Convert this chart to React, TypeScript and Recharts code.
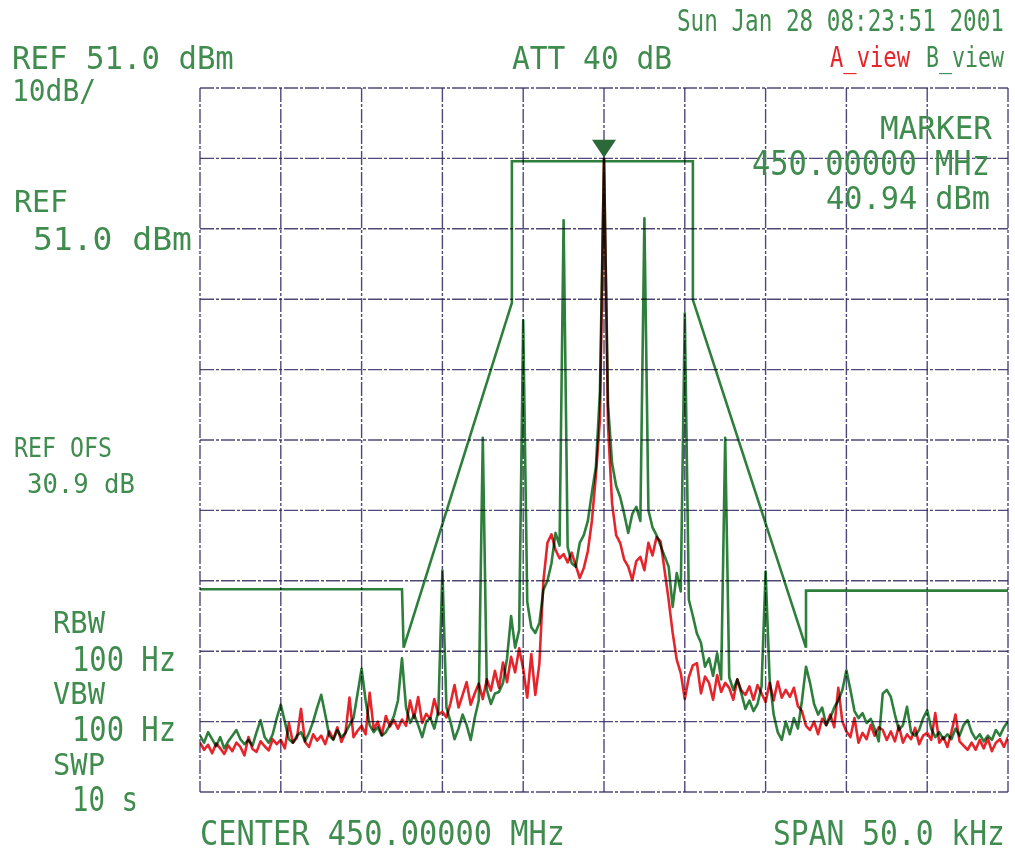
import React from 'react';
import { LineChart, Line, XAxis, YAxis, CartesianGrid, ReferenceDot } from 'recharts';

// Sweep definition: 201 points, -25 kHz .. +25 kHz around 450 MHz
const START_KHZ = -25;
const STEP_KHZ = 0.25;

// A_view (red) trace, dBm
const aView = [
  -42.0, -43.0, -42.3, -43.5, -42.1, -42.8, -43.6, -42.4, -43.2, -42.0,
  -42.6, -43.8, -41.2, -42.9, -43.3, -41.8, -42.5, -43.1, -41.5, -42.2,
  -41.6, -42.8, -39.2, -42.0, -41.3, -37.2, -41.9, -42.6, -40.8, -41.7,
  -41.0, -42.2, -40.4, -41.5, -39.8, -41.9, -40.6, -35.6, -41.2, -40.3,
  -39.6, -40.8, -34.9, -40.1, -39.0, -40.9, -38.2, -39.7, -38.8, -40.0,
  -38.7, -39.6, -36.0, -38.5, -35.5, -39.2, -37.9, -38.6, -35.8, -38.0,
  -37.6, -38.4, -36.4, -33.8, -37.0, -35.2, -33.4, -36.6, -35.0, -33.6,
  -35.8, -33.0, -34.6, -31.8, -34.2, -30.6, -33.4, -29.8, -32.0, -28.6,
  -31.5, -35.6, -29.4, -35.2, -30.8, -19.0, -13.6, -12.4, -14.6, -15.8,
  -15.2, -16.4, -15.0, -16.8, -18.6, -17.2, -14.8, -10.5, -4.0, 4.0,
  40.94,
  3.0, -8.0, -12.5, -13.6, -16.0, -17.0, -18.9, -16.2, -15.6, -17.5,
  -13.6, -15.4, -12.8, -13.4, -17.5, -21.7, -26.4, -30.2, -32.1, -35.8,
  -32.7, -31.0, -30.7, -35.0, -32.6, -33.5, -35.9, -32.4, -34.8, -33.5,
  -34.2, -35.9, -33.0, -34.6, -35.2, -34.0, -35.9, -33.8, -35.0, -36.2,
  -33.5, -36.0, -33.3, -35.6, -34.5, -35.5, -34.2, -36.8, -37.5, -39.6,
  -40.2, -39.0, -40.8, -38.6, -39.5, -38.0, -39.8, -34.2, -39.0, -40.4,
  -41.2, -38.5, -42.0, -40.6, -41.5, -39.5, -41.0, -39.8, -40.2, -41.6,
  -40.4, -41.8, -39.6, -42.0, -40.8, -41.5, -39.9, -42.2, -41.0, -40.6,
  -41.6, -37.8, -42.0, -41.2, -42.6, -40.5, -38.0, -41.8, -42.4, -43.0,
  -42.0, -43.0, -41.6, -42.8, -41.4, -43.2, -42.0, -41.5, -42.6, -41.2,
];

// B_view (green) trace, dBm
const bView = [
  -41.0, -42.0, -40.5, -41.5, -42.5, -41.2, -42.8, -41.8, -41.0, -40.2,
  -41.5, -42.2, -41.6, -42.4, -40.5, -38.8, -41.2, -42.0, -40.8, -38.5,
  -36.6, -39.0, -41.5, -42.0, -41.0, -40.5, -41.8, -40.6, -39.0, -37.0,
  -35.2, -38.0, -41.0, -41.6, -40.2, -41.2, -40.6, -39.5, -38.5, -35.0,
  -31.5, -36.0, -39.5, -40.5, -39.8, -41.0, -40.5, -39.5, -38.2, -36.0,
  -30.0, -37.0, -39.2, -38.0, -39.5, -41.2, -39.0, -38.5, -40.0, -37.5,
  -17.5, -37.0, -39.0, -41.5, -40.0, -38.0, -39.5, -41.6, -38.5, -36.0,
  1.3, -34.5, -36.5, -35.0, -34.8, -33.5, -30.0, -24.0, -28.5, -26.0,
  18.0, -22.0, -25.6, -26.4, -25.0, -20.3, -19.0, -16.5, -12.2, -14.0,
  32.2, -14.2, -16.5, -17.0, -13.6, -12.5, -10.5, -6.5, -2.8, 8.0,
  40.94,
  6.0, -2.3, -5.5, -7.1, -9.5, -12.2, -9.5, -8.5, -10.5, 32.5,
  -9.0, -11.4, -12.5, -14.0, -15.5, -17.0, -22.7, -17.9, -20.5, 19.0,
  -21.7, -24.0, -26.5, -27.8, -31.2, -30.0, -32.5, -29.3, -33.0, 1.3,
  -32.7, -34.5, -33.0, -35.0, -37.2, -36.0, -37.5, -36.5, -34.0, -17.7,
  -33.0, -38.0, -40.5, -41.6, -39.0, -40.8, -38.5, -40.0, -36.0, -31.2,
  -33.5, -36.5, -38.0, -37.0, -39.5, -38.5, -37.0, -36.0, -34.5, -31.7,
  -34.5, -37.5, -38.5, -37.8, -39.2, -38.6, -40.0, -41.8, -35.0, -34.5,
  -35.5, -38.0, -40.2, -39.5, -36.9, -40.5, -41.0, -40.2, -38.5, -37.4,
  -40.0, -41.2, -40.5, -41.5, -40.8, -41.5, -40.0, -41.0, -39.5, -38.8,
  -40.5, -41.5, -40.8, -41.8, -41.0, -41.6, -40.2, -41.0, -39.8, -39.0,
];

// Limit mask
const maskFreq = [-25, -12.5, -12.4, -5.7, -5.7, 5.5, 5.5, 12.5, 12.5, 25];
const maskLevel = [-20.2, -20.2, -28.5, 20.5, 40.6, 40.6, 20.9, -28.5, -20.4, -20.4];

const xTicks = [-25, -20, -15, -10, -5, 0, 5, 10, 15, 20, 25];
const yTicks = [-49, -39, -29, -19, -9, 1, 11, 21, 31, 41, 51];

const markerFreq = 0;
const markerLevel = 40.94;

const data = aView.map((a, i) => ({ f: START_KHZ + i * STEP_KHZ, a, b: bView[i] }));
const maskData = maskFreq.map((f, i) => ({ f, m: maskLevel[i] }));

const TXT = '#3f8c4e';
const RED = '#e4262c';
const GREEN = '#2e7f3c';

// DejaVu Sans Mono metrics
const ADV = 0.602;
const CAP = 0.729;

type Lbl = { t: string; x: number; y: number; w: number; cap: number; c?: string };
const labels: Lbl[] = [
  { t: 'Sun Jan 28 08:23:51 2001', x: 677, y: 31, w: 327, cap: 22 },
  { t: 'REF 51.0 dBm', x: 12, y: 69, w: 222, cap: 23 },
  { t: 'ATT 40 dB', x: 512, y: 69, w: 160, cap: 23 },
  { t: 'A_view', x: 830, y: 67, w: 80, cap: 21, c: RED },
  { t: 'B_view', x: 926, y: 67, w: 78, cap: 21 },
  { t: '10dB/', x: 12, y: 101, w: 84, cap: 22 },
  { t: 'MARKER', x: 880, y: 139, w: 112, cap: 23 },
  { t: '450.00000 MHz', x: 752, y: 175, w: 238, cap: 24 },
  { t: '40.94 dBm', x: 826, y: 209, w: 164, cap: 23 },
  { t: 'REF', x: 14, y: 212, w: 54, cap: 22 },
  { t: '51.0 dBm', x: 33, y: 250, w: 159, cap: 23 },
  { t: 'REF OFS', x: 14, y: 457, w: 98, cap: 20 },
  { t: '30.9 dB', x: 27, y: 493, w: 108, cap: 20 },
  { t: 'RBW', x: 53, y: 633, w: 52, cap: 22 },
  { t: '100 Hz', x: 72, y: 671, w: 104, cap: 24 },
  { t: 'VBW', x: 53, y: 704, w: 52, cap: 22 },
  { t: '100 Hz', x: 72, y: 741, w: 104, cap: 24 },
  { t: 'SWP', x: 53, y: 775, w: 52, cap: 22 },
  { t: '10 s', x: 72, y: 811, w: 66, cap: 24 },
  { t: 'CENTER 450.00000 MHz', x: 200, y: 845, w: 365, cap: 24 },
  { t: 'SPAN 50.0 kHz', x: 773, y: 845, w: 232, cap: 24 },
];

const MarkerShape = (p: any) => {
  const { cx, cy } = p;
  if (cx == null || cy == null) return null;
  return (
    <polygon
      points={`${cx - 12},${cy - 19} ${cx + 12},${cy - 19} ${cx},${cy - 1}`}
      fill="#2b6a38"
    />
  );
};

export default function App() {
  return (
    <div style={{ position: 'absolute', left: 0, top: 0, width: 1015, height: 856, background: '#fff' }}>
      <style>{`.recharts-line-curve{mix-blend-mode:multiply}`}</style>
      <LineChart
        width={1015}
        height={856}
        data={data}
        margin={{ top: 88, right: 7, bottom: 64, left: 200 }}
      >
        <CartesianGrid
          stroke="#2f2860"
          strokeWidth={1.4}
          strokeDasharray="14 2 3 2"
          strokeOpacity={0.85}
        />
        <XAxis dataKey="f" type="number" domain={[-25, 25]} ticks={xTicks} hide allowDataOverflow />
        <YAxis type="number" domain={[-49, 51]} ticks={yTicks} hide allowDataOverflow />
        <Line
          data={maskData}
          dataKey="m"
          type="linear"
          stroke={GREEN}
          strokeWidth={2.6}
          dot={false}
          isAnimationActive={false}
        />
        <Line
          dataKey="a"
          type="linear"
          stroke={RED}
          strokeWidth={2.6}
          strokeLinejoin="round"
          dot={false}
          isAnimationActive={false}
        />
        <Line
          dataKey="b"
          type="linear"
          stroke={GREEN}
          strokeWidth={2.6}
          strokeLinejoin="round"
          dot={false}
          isAnimationActive={false}
        />
        <ReferenceDot x={markerFreq} y={markerLevel} r={0} shape={MarkerShape} ifOverflow="visible" />
      </LineChart>
      <svg
        width={1015}
        height={856}
        style={{ position: 'absolute', left: 0, top: 0, pointerEvents: 'none' }}
      >
        {labels.map((l, i) => {
          const fs = l.w / (l.t.length * ADV);
          const sy = l.cap / (CAP * fs);
          return (
            <text
              key={i}
              x={0}
              y={0}
              transform={`translate(${l.x},${l.y}) scale(1,${sy.toFixed(3)})`}
              fontFamily="'DejaVu Sans Mono', monospace"
              fontSize={fs.toFixed(2)}
              fill={l.c ?? TXT}
            >
              {l.t}
            </text>
          );
        })}
      </svg>
    </div>
  );
}
